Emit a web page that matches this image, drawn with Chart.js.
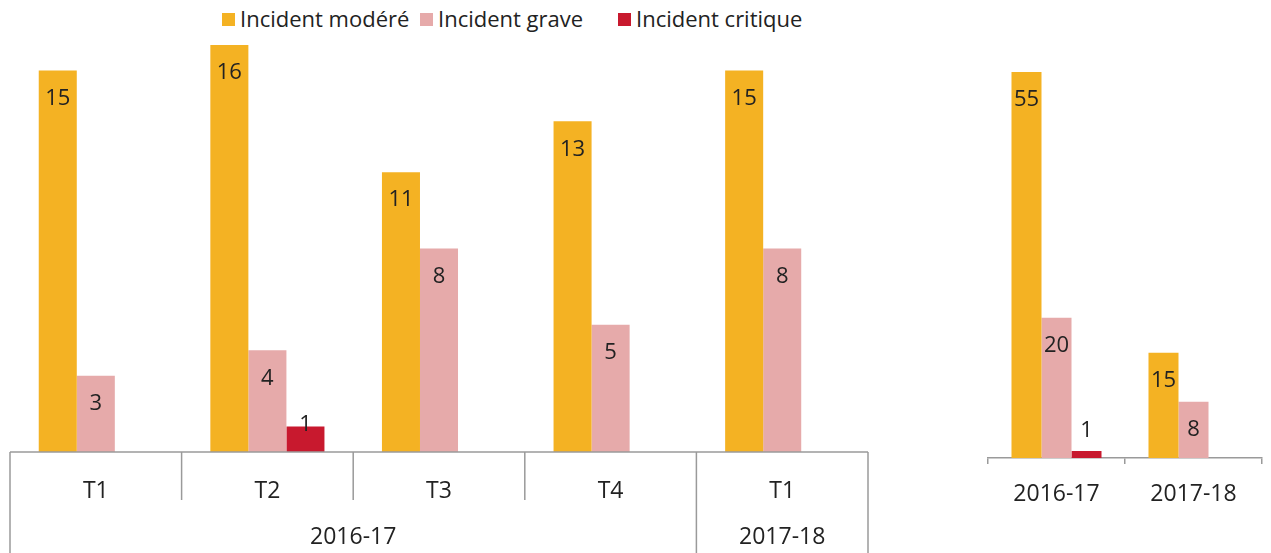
<!DOCTYPE html>
<html lang="fr">
<head>
<meta charset="UTF-8">
<title>Incidents par trimestre et par année</title>
<script src="https://cdn.jsdelivr.net/npm/chart.js"></script>
<style>
    body {
        margin: 0;
        background: #fff;
        font-family: "Open Sans", sans-serif;
    }
    #page {
        position: relative;
        width: 1271px;
        height: 553px;
        overflow: hidden;
    }
    #legend span.item {
        position: absolute;
        top: 3px;
        font-size: 22px;
        color: #222;
        white-space: nowrap;
    }
    #legend span.box {
        display: inline-block;
        width: 13px;
        height: 13px;
        margin-right: 5px;
        vertical-align: 1px;
    }
    #left { position: absolute; left: 0; top: 0; }
    #right { position: absolute; left: 880px; top: 0; }
</style>
</head>
<body>
<div id="page">
    <div id="legend"></div>
    <canvas id="left" width="880" height="553"></canvas>
    <canvas id="right" width="391" height="553"></canvas>
</div>
<script>
    // données trimestrielles
    const quarters = ['T1', 'T2', 'T3', 'T4', 'T1'];
    const yearGroups = ['2016-17', '2017-18'];
    const quartersPerYear = [4, 1];
    const moderateQ = [15, 16, 11, 13, 15];
    const graveQ = [3, 4, 8, 5, 8];
    const criticalQ = [null, 1, null, null, null];

    // données annuelles
    const years = ['2016-17', '2017-18'];
    const moderateY = [55, 15];
    const graveY = [20, 8];
    const criticalY = [1, null];

    const seriesNames = ['Incident modéré', 'Incident grave', 'Incident critique'];
    const colors = ['#F4B223', '#E6AAAA', '#C8192E'];

    const FONT = '"Open Sans", sans-serif';
    const TEXT = '#222';
    const LINE = '#9a9a9a';

    // légende HTML (une entrée tous les 198 px)
    document.getElementById('legend').innerHTML = seriesNames.map((n, i) =>
        `<span class="item" style="left:${222 + i * 198}px"><span class="box" style="background:${colors[i]}"></span>${n}</span>`
    ).join('');

    // étiquettes de valeur (à l'intérieur, en haut de la barre)
    const valueLabels = {
        id: 'valueLabels',
        afterDatasetsDraw(chart) {
            const ctx = chart.ctx;
            ctx.save();
            ctx.font = '22px ' + FONT;
            ctx.fillStyle = TEXT;
            ctx.textAlign = 'center';
            ctx.textBaseline = 'middle';
            chart.data.datasets.forEach((ds, di) => {
                chart.getDatasetMeta(di).data.forEach((bar, i) => {
                    const v = ds.data[i];
                    if (v === null || v === undefined) return;
                    const y = Math.min(bar.y + 28, bar.base - 27);
                    ctx.fillText(String(v), bar.x, y);
                });
            });
            ctx.restore();
        }
    };

    // tableau sous l'axe des x (graphique trimestriel)
    const axisTable = {
        id: 'axisTable',
        afterDraw(chart) {
            const ctx = chart.ctx;
            const x = chart.scales.x;
            const a = chart.chartArea;
            const bottom = chart.height;
            const edge = i => {
                if (i <= 0) return a.left;
                if (i >= quarters.length) return a.right;
                return (x.getPixelForTick(i - 1) + x.getPixelForTick(i)) / 2;
            };
            ctx.save();
            ctx.strokeStyle = LINE;
            ctx.lineWidth = 1.5;
            ctx.beginPath();
            ctx.moveTo(a.left, a.bottom);
            ctx.lineTo(a.right, a.bottom);
            // limites des années
            let idx = 0;
            const yearEdges = [0];
            quartersPerYear.forEach(n => { idx += n; yearEdges.push(idx); });
            for (let i = 0; i <= quarters.length; i++) {
                const px = edge(i);
                ctx.moveTo(px, a.bottom);
                ctx.lineTo(px, yearEdges.includes(i) ? bottom : a.bottom + 48);
            }
            ctx.stroke();

            ctx.font = '23px ' + FONT;
            ctx.fillStyle = TEXT;
            ctx.textAlign = 'center';
            ctx.textBaseline = 'middle';
            yearGroups.forEach((g, k) => {
                const cx = (edge(yearEdges[k]) + edge(yearEdges[k + 1])) / 2;
                ctx.fillText(g, cx, 537);
            });
            ctx.restore();
        }
    };

    function makeDatasets(a, b, c) {
        return [a, b, c].map((d, i) => ({
            label: seriesNames[i],
            data: d,
            backgroundColor: colors[i],
            borderWidth: 0
        }));
    }

    new Chart(document.getElementById('left'), {
        type: 'bar',
        data: { labels: quarters, datasets: makeDatasets(moderateQ, graveQ, criticalQ) },
        options: {
            responsive: false,
            animation: false,
            layout: { padding: { left: 10, right: 12, top: 45, bottom: 0 } },
            datasets: { bar: { categoryPercentage: 0.665, barPercentage: 1 } },
            plugins: { legend: { display: false }, tooltip: { enabled: false } },
            scales: {
                x: {
                    grid: { display: false, drawTicks: false },
                    border: { display: false },
                    ticks: { font: { family: FONT, size: 23 }, color: TEXT, padding: 26 },
                    afterFit(s) { s.height = 101; }
                },
                y: { display: false, min: 0, max: 16 }
            }
        },
        plugins: [valueLabels, axisTable]
    });

    new Chart(document.getElementById('right'), {
        type: 'bar',
        data: { labels: years, datasets: makeDatasets(moderateY, graveY, criticalY) },
        options: {
            responsive: false,
            animation: false,
            layout: { padding: { left: 108, right: 9, top: 72, bottom: 0 } },
            datasets: { bar: { categoryPercentage: 0.657, barPercentage: 1 } },
            plugins: { legend: { display: false }, tooltip: { enabled: false } },
            scales: {
                x: {
                    grid: { display: true, drawOnChartArea: false, drawTicks: true, tickLength: 6, color: LINE, lineWidth: 1.5 },
                    border: { display: true, color: LINE, width: 1.5 },
                    ticks: { font: { family: FONT, size: 23 }, color: TEXT, padding: 17 },
                    afterFit(s) { s.height = 95; }
                },
                y: { display: false, min: 0, max: 55 }
            }
        },
        plugins: [valueLabels]
    });
</script>
</body>
</html>
